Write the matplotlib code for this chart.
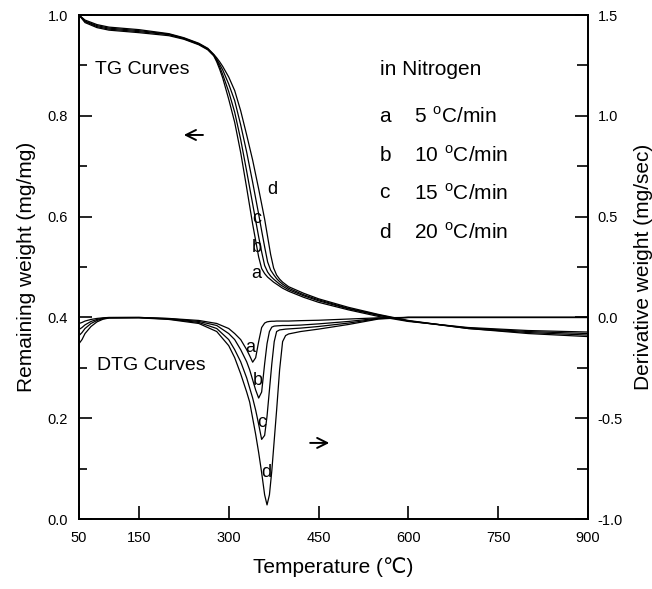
import matplotlib
matplotlib.use('Agg')
import matplotlib.pyplot as plt
from matplotlib.ticker import MultipleLocator, FixedLocator, FormatStrFormatter

plt.rcParams['font.family'] = ['Liberation Sans', 'DejaVu Sans']
plt.rcParams['mathtext.fontset'] = 'custom'
plt.rcParams['mathtext.rm'] = 'Liberation Sans'

# TG curves: remaining weight vs temperature
temp_tg = [50, 60, 80, 100, 150, 200, 225, 250, 265, 275, 280, 285, 290, 300, 310, 320, 330,
           340, 350, 355, 360, 365, 370, 375, 380, 385, 390, 400, 425, 450, 500, 550, 600,
           700, 800, 900]
tg_a = [1.0, 0.985, 0.975, 0.970, 0.965, 0.959, 0.952, 0.941, 0.931, 0.919, 0.907, 0.892,
        0.875, 0.833, 0.787, 0.727, 0.657, 0.585, 0.520, 0.497, 0.487, 0.480, 0.475, 0.470,
        0.466, 0.462, 0.458, 0.452, 0.440, 0.430, 0.415, 0.402, 0.392, 0.380, 0.374, 0.371]
tg_b = [1.0, 0.987, 0.977, 0.972, 0.967, 0.961, 0.953, 0.942, 0.932, 0.920, 0.910, 0.897,
        0.882, 0.848, 0.807, 0.753, 0.690, 0.625, 0.560, 0.530, 0.503, 0.490, 0.482, 0.476,
        0.471, 0.466, 0.462, 0.455, 0.443, 0.433, 0.417, 0.404, 0.393, 0.379, 0.372, 0.368]
tg_c = [1.0, 0.988, 0.979, 0.974, 0.969, 0.962, 0.954, 0.943, 0.933, 0.921, 0.912, 0.902,
        0.891, 0.863, 0.830, 0.782, 0.728, 0.668, 0.605, 0.572, 0.540, 0.510, 0.494, 0.485,
        0.477, 0.471, 0.466, 0.458, 0.445, 0.435, 0.418, 0.405, 0.393, 0.378, 0.370, 0.365]
tg_d = [1.0, 0.990, 0.981, 0.976, 0.971, 0.963, 0.955, 0.944, 0.934, 0.922, 0.915, 0.907,
        0.898, 0.877, 0.850, 0.810, 0.762, 0.712, 0.655, 0.625, 0.595, 0.560, 0.525, 0.498,
        0.484, 0.476, 0.470, 0.461, 0.448, 0.437, 0.420, 0.406, 0.394, 0.378, 0.368, 0.362]

# DTG curves: derivative weight vs temperature
temp_dtg = [50, 55, 60, 70, 80, 90, 100, 150, 200, 250, 280, 300, 310, 320, 330, 335, 340,
            345, 350, 355, 360, 364, 368, 372, 376, 380, 385, 390, 395, 400, 420, 450, 500,
            550, 600, 700, 800, 900]
dtg_a = [-0.030, -0.025, -0.018, -0.010, -0.005, -0.002, 0.0, 0.0, -0.005, -0.015, -0.030,
         -0.055, -0.080, -0.110, -0.160, -0.190, -0.222, -0.200, -0.120, -0.050, -0.028,
         -0.022, -0.020, -0.019, -0.019, -0.018, -0.018, -0.018, -0.018, -0.018, -0.016,
         -0.014, -0.008, -0.002, 0.0, 0.0, 0.0, 0.0]
dtg_b = [-0.060, -0.050, -0.037, -0.020, -0.010, -0.004, -0.001, 0.0, -0.006, -0.020, -0.040,
         -0.080, -0.110, -0.160, -0.220, -0.260, -0.310, -0.360, -0.400, -0.370, -0.230,
         -0.130, -0.070, -0.048, -0.043, -0.042, -0.041, -0.040, -0.040, -0.040, -0.038,
         -0.032, -0.020, -0.004, 0.0, 0.0, 0.0, 0.0]
dtg_c = [-0.090, -0.075, -0.055, -0.030, -0.015, -0.006, -0.002, -0.001, -0.008, -0.025, -0.055,
         -0.110, -0.160, -0.220, -0.300, -0.350, -0.400, -0.460, -0.530, -0.605, -0.585,
         -0.490, -0.360, -0.230, -0.120, -0.070, -0.062, -0.060, -0.058, -0.057, -0.053,
         -0.045, -0.028, -0.006, 0.0, 0.0, 0.0, 0.0]
dtg_d = [-0.130, -0.110, -0.080, -0.045, -0.022, -0.009, -0.003, -0.002, -0.010, -0.030, -0.070,
         -0.140, -0.200, -0.280, -0.370, -0.420, -0.500, -0.580, -0.670, -0.770, -0.880,
         -0.930, -0.880, -0.760, -0.610, -0.460, -0.260, -0.120, -0.090, -0.082, -0.070,
         -0.058, -0.035, -0.008, 0.0, 0.0, 0.0, 0.0]

rates = ['5', '10', '15', '20']
curve_ids = ['a', 'b', 'c', 'd']

fig = plt.figure(figsize=(6.52, 5.89), dpi=100)
ax1 = fig.add_axes([0.1212, 0.1188, 0.7806, 0.8557])
ax2 = ax1.twinx()

for y in [tg_a, tg_b, tg_c, tg_d]:
    ax1.plot(temp_tg, y, color='black', lw=0.9)
for y in [dtg_a, dtg_b, dtg_c, dtg_d]:
    ax2.plot(temp_dtg, y, color='black', lw=0.9)

ax1.set_xlim(50, 900)
ax1.set_ylim(0.0, 1.0)
ax2.set_ylim(-1.0, 1.5)

ax1.xaxis.set_major_locator(FixedLocator([50, 150, 300, 450, 600, 750, 900]))
ax1.yaxis.set_major_locator(MultipleLocator(0.2))
ax1.yaxis.set_minor_locator(MultipleLocator(0.1))
ax2.yaxis.set_major_locator(MultipleLocator(0.5))
ax2.yaxis.set_minor_locator(MultipleLocator(0.25))
ax1.yaxis.set_major_formatter(FormatStrFormatter('%.1f'))
ax2.yaxis.set_major_formatter(FormatStrFormatter('%.1f'))

ax1.tick_params(axis='x', which='major', direction='in', length=9.4, width=1.2,
                labelsize=10.5, pad=8.5, top=False)
ax1.tick_params(axis='y', which='major', direction='in', length=9.4, width=1.2,
                labelsize=10.5, pad=8, right=False)
ax1.tick_params(axis='y', which='minor', direction='in', length=5.8, width=1.2, right=False)
ax2.tick_params(axis='y', which='major', direction='in', length=9.4, width=1.2,
                labelsize=10.5, pad=7)
ax2.tick_params(axis='y', which='minor', direction='in', length=8, width=1.2)

for ax in (ax1, ax2):
    for sp in ax.spines.values():
        sp.set_linewidth(1.3)

ax1.set_xlabel('Temperature (\u2103)', fontsize=15, labelpad=9)
ax1.set_ylabel('Remaining weight (mg/mg)', fontsize=15, labelpad=8)
ax2.set_ylabel('Derivative weight (mg/sec)', fontsize=15, labelpad=8)

ax1.text(77, 0.891, 'TG Curves', ha='left', va='center', fontsize=14)
ax1.text(80, 0.305, 'DTG Curves', ha='left', va='center', fontsize=14)

# heating-rate key
key = dict(fontsize=15, ha='left', va='center')
ax1.text(552, 0.891, 'in Nitrogen', **key)
for cid, r, yy in zip(curve_ids, rates, [0.798, 0.722, 0.647, 0.569]):
    ax1.text(552, yy, cid, **key)
    ax1.text(609, yy, r + r'$\ ^{\mathrm{o}}$C/min', **key)

# arrows pointing to each curve family's axis
arrow = dict(arrowstyle='->', lw=1.4, color='black', mutation_scale=18,
             shrinkA=0, shrinkB=0)
ax1.annotate('', xy=(225, 0.762), xytext=(257, 0.762), arrowprops=arrow)
ax1.annotate('', xy=(468, 0.151), xytext=(436, 0.151), arrowprops=arrow)

# curve letters next to TG and DTG curves
lab = dict(fontsize=13, ha='center', va='center')
for cid, (x, y) in zip(curve_ids, [(345.5, 0.488), (347, 0.538), (347, 0.597), (372, 0.653)]):
    ax1.text(x, y, cid, **lab)
for cid, (x, y) in zip(curve_ids, [(335.5, 0.341), (349, 0.274), (355.5, 0.192), (362, 0.093)]):
    ax1.text(x, y, cid, **lab)

fig.savefig('out.png', dpi=100)
